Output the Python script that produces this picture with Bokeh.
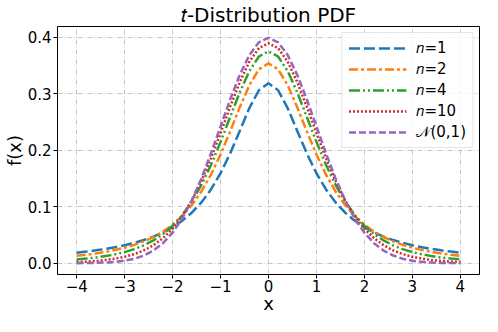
from bokeh.plotting import figure
from bokeh.models import FixedTicker, Legend, LegendItem, Range1d
from bokeh.embed import file_html
from bokeh.resources import INLINE

# x grid of the curves
x_vals = [-4.0, -3.8, -3.6, -3.4, -3.2, -3.0, -2.8, -2.6, -2.4, -2.2,
          -2.0, -1.8, -1.6, -1.4, -1.2, -1.0, -0.8, -0.6, -0.4, -0.2,
          0.0, 0.2, 0.4, 0.6, 0.8, 1.0, 1.2, 1.4, 1.6, 1.8,
          2.0, 2.2, 2.4, 2.6, 2.8, 3.0, 3.2, 3.4, 3.6, 3.8, 4.0]

pdf_n1 = [0.0187, 0.0206, 0.0228, 0.0253, 0.0283, 0.0318, 0.0360, 0.0410, 0.0471, 0.0545,
          0.0637, 0.0751, 0.0894, 0.1075, 0.1305, 0.1592, 0.1941, 0.2341, 0.2744, 0.3061,
          0.3183, 0.3061, 0.2744, 0.2341, 0.1941, 0.1592, 0.1305, 0.1075, 0.0894, 0.0751,
          0.0637, 0.0545, 0.0471, 0.0410, 0.0360, 0.0318, 0.0283, 0.0253, 0.0228, 0.0206, 0.0187]

pdf_n2 = [0.0131, 0.0150, 0.0173, 0.0200, 0.0234, 0.0274, 0.0324, 0.0386, 0.0463, 0.0559,
          0.0680, 0.0834, 0.1027, 0.1269, 0.1567, 0.1925, 0.2331, 0.2758, 0.3150, 0.3432,
          0.3536, 0.3432, 0.3150, 0.2758, 0.2331, 0.1925, 0.1567, 0.1269, 0.1027, 0.0834,
          0.0680, 0.0559, 0.0463, 0.0386, 0.0324, 0.0274, 0.0234, 0.0200, 0.0173, 0.0150, 0.0131]

pdf_n4 = [0.0067, 0.0082, 0.0101, 0.0126, 0.0157, 0.0197, 0.0249, 0.0316, 0.0403, 0.0516,
          0.0663, 0.0851, 0.1089, 0.1384, 0.1739, 0.2147, 0.2587, 0.3023, 0.3400, 0.3658,
          0.3750, 0.3658, 0.3400, 0.3023, 0.2587, 0.2147, 0.1739, 0.1384, 0.1089, 0.0851,
          0.0663, 0.0516, 0.0403, 0.0316, 0.0249, 0.0197, 0.0157, 0.0126, 0.0101, 0.0082, 0.0067]

pdf_n10 = [0.0020, 0.0029, 0.0040, 0.0057, 0.0081, 0.0114, 0.0161, 0.0227, 0.0319, 0.0444,
           0.0611, 0.0831, 0.1111, 0.1454, 0.1857, 0.2304, 0.2766, 0.3203, 0.3566, 0.3807,
           0.3891, 0.3807, 0.3566, 0.3203, 0.2766, 0.2304, 0.1857, 0.1454, 0.1111, 0.0831,
           0.0611, 0.0444, 0.0319, 0.0227, 0.0161, 0.0114, 0.0081, 0.0057, 0.0040, 0.0029, 0.0020]

pdf_norm = [0.0001, 0.0003, 0.0006, 0.0012, 0.0024, 0.0044, 0.0079, 0.0136, 0.0224, 0.0355,
            0.0540, 0.0790, 0.1109, 0.1497, 0.1942, 0.2420, 0.2897, 0.3332, 0.3683, 0.3910,
            0.3989, 0.3910, 0.3683, 0.3332, 0.2897, 0.2420, 0.1942, 0.1497, 0.1109, 0.0790,
            0.0540, 0.0355, 0.0224, 0.0136, 0.0079, 0.0044, 0.0024, 0.0012, 0.0006, 0.0003, 0.0001]

series_labels = ["𝑛=1", "𝑛=2", "𝑛=4", "𝑛=10", "𝒩(0,1)"]
x_ticks = [-4, -3, -2, -1, 0, 1, 2, 3, 4]
x_tick_labels = ["−4", "−3", "−2", "−1", "0", "1", "2", "3", "4"]
y_ticks = [0.0, 0.1, 0.2, 0.3, 0.4]
y_tick_labels = ["0.0", "0.1", "0.2", "0.3", "0.4"]

FONT = "DejaVu Sans"

p = figure(width=482, height=316, output_backend="svg", toolbar_location=None,
           x_range=Range1d(-4.4, 4.4), y_range=Range1d(-0.01995, 0.41889),
           min_border_left=40, min_border_right=3, min_border_bottom=20, min_border_top=0)

p.title.text = "𝑡-Distribution PDF"
p.title.align = "center"
p.title.text_font = FONT
p.title.text_font_size = "20px"
p.title.text_font_style = "normal"
p.title.text_color = "black"
p.title.standoff = 0

p.outline_line_color = "black"
p.outline_line_width = 1

for ax in (p.xaxis, p.yaxis):
    ax.axis_line_color = None
    ax.major_tick_out = 4
    ax.major_tick_in = 0
    ax.minor_tick_line_color = None
    ax.major_tick_line_color = "black"
    ax.major_label_text_font = FONT
    ax.major_label_text_font_size = "15px"
    ax.major_label_text_color = "black"
    ax.axis_label_text_font = FONT
    ax.axis_label_text_font_size = "18px"
    ax.axis_label_text_font_style = "normal"
    ax.axis_label_text_color = "black"
    ax.major_label_standoff = 2

p.xaxis.major_label_standoff = 1
p.xaxis.axis_label_standoff = -2
p.yaxis.axis_label_standoff = 0

p.xaxis.axis_label = "x"
p.yaxis.axis_label = "f(x)"
p.xaxis.ticker = FixedTicker(ticks=x_ticks)
p.yaxis.ticker = FixedTicker(ticks=y_ticks)
p.xaxis.major_label_overrides = dict(zip(x_ticks, x_tick_labels))
p.yaxis.major_label_overrides = dict(zip(y_ticks, y_tick_labels))

for g in (p.xgrid, p.ygrid):
    g.grid_line_color = "#b0b0b0"
    g.grid_line_dash = "5 2 1 2"
    g.grid_line_width = 0.8
    g.grid_line_alpha = 0.9

colors = ["#1f77b4", "#ff7f0e", "#2ca02c", "#d62728", "#9467bd"]
dashes = ["11 4", "9 3 3 3", "11 3 2 3 2 3", "2 2", "7 3"]
series = [pdf_n1, pdf_n2, pdf_n4, pdf_n10, pdf_norm]

items = []
for ys, c, d, lab in zip(series, colors, dashes, series_labels):
    r = p.line(x_vals, ys, line_color=c, line_dash=d, line_width=2.5)
    items.append(LegendItem(label=lab, renderers=[r]))

legend = Legend(items=items, location="top_right")
legend.label_text_font = FONT
legend.label_text_font_size = "15px"
legend.label_text_color = "black"
legend.glyph_width = 58
legend.glyph_height = 18
legend.spacing = 3
legend.padding = 6
legend.margin = 6
legend.label_standoff = 10
legend.border_line_color = "#cccccc"
legend.border_line_width = 1
legend.background_fill_alpha = 0.8
p.add_layout(legend)

open("out.html", "w").write(file_html(p, INLINE))
